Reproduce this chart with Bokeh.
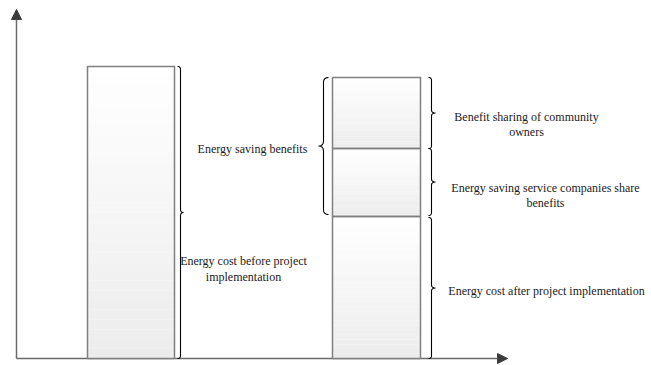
import numpy as np
from bokeh.plotting import figure
from bokeh.models import Range1d, Arrow, NormalHead, ColumnDataSource
from bokeh.core.properties import value
from bokeh.embed import file_html
from bokeh.resources import INLINE

# Energy cost before the project (single bar)
before_cost = 292
# Energy cost after the project, stacked with the two shares of the savings
after_cost = 142
esco_share = 68
owner_share = 71

label_before = ["Energy cost before project", "implementation"]
label_saving = ["Energy saving benefits"]
label_owner = ["Benefit sharing of community", "owners"]
label_esco = ["Energy saving service companies share", "benefits"]
label_after = ["Energy cost after project implementation"]

W, H = 651, 365
p = figure(width=W, height=H, output_backend="svg", toolbar_location=None,
           x_range=Range1d(0, W), y_range=Range1d(-7, H - 7),
           x_axis_location=None, y_axis_location=None, min_border=0,
           outline_line_color=None, background_fill_color="white")
p.grid.visible = False

FONT = value("Liberation Serif")

# bar geometry (horizontal placement)
left_x0, left_x1 = 87, 174
right_x0, right_x1 = 332, 420

segments = [
    (left_x0, left_x1, 0, before_cost),
    (right_x0, right_x1, 0, after_cost),
    (right_x0, right_x1, after_cost, after_cost + esco_share),
    (right_x0, right_x1, after_cost + esco_share, after_cost + esco_share + owner_share),
]

# axes with arrow heads
p.add_layout(Arrow(end=NormalHead(size=10, fill_color="#3c3c3c", line_color="#3c3c3c"),
                   x_start=16, y_start=0, x_end=16, y_end=349,
                   line_color="#6a6a6a", line_width=1.5, level="underlay"))
p.add_layout(Arrow(end=NormalHead(size=10, fill_color="#3c3c3c", line_color="#3c3c3c"),
                   x_start=16, y_start=0, x_end=507, y_end=0,
                   line_color="#6a6a6a", line_width=1.5, level="underlay"))

# soft vertical gradient inside each bar segment
n = 30
gl, gr, gb, gt, gc = [], [], [], [], []
for x0, x1, b, t in segments:
    edges = np.linspace(t, b, n + 1)
    for i in range(n):
        f = (i + 0.5) / n
        g = int(round(255 - f * (255 - 236)))
        gl.append(x0); gr.append(x1)
        gt.append(edges[i]); gb.append(edges[i + 1])
        gc.append("#%02x%02x%02x" % (g, g, g))
p.quad(left=gl, right=gr, top=gt, bottom=gb, fill_color=gc, line_color=None)

# bar outlines
p.quad(left=[s[0] for s in segments], right=[s[1] for s in segments],
       bottom=[s[2] for s in segments], top=[s[3] for s in segments],
       fill_alpha=0, line_color="#7f7f7f", line_width=1.5)


def qbez(p0, c, p1, k=8):
    t = np.linspace(0, 1, k)[:, None]
    pts = (1 - t) ** 2 * np.array(p0) + 2 * (1 - t) * t * np.array(c) + t ** 2 * np.array(p1)
    return pts


def brace(x, y_top, y_bot, direction=1, r=3, tip=3):
    """Curly brace along x; direction=1 gives '}' and -1 gives '{'."""
    d = direction
    ym = (y_top + y_bot) / 2
    parts = [
        qbez((x - d * r, y_top), (x, y_top), (x, y_top - r)),
        np.array([[x, ym + r]]),
        qbez((x, ym + r), (x, ym), (x + d * tip, ym), 5),
        qbez((x + d * tip, ym), (x, ym), (x, ym - r), 5),
        np.array([[x, y_bot + r]]),
        qbez((x, y_bot + r), (x, y_bot), (x - d * r, y_bot)),
    ]
    pts = np.vstack(parts)
    p.line(pts[:, 0], pts[:, 1], line_color="black", line_width=1.1)


brace(180, before_cost, 0, 1, r=3, tip=3)
brace(431, after_cost - 1, 0, 1, r=3, tip=4)
brace(431, after_cost + esco_share, after_cost + 1, 1, r=3, tip=4)
brace(431, after_cost + esco_share + owner_share, after_cost + esco_share, 1, r=3, tip=4)
brace(323, after_cost + esco_share + owner_share, after_cost + 2, -1, r=5, tip=5)

# annotation text
tx, ty, tt = [], [], []
def add_lines(lines, cx, cy, step=15):
    for i, s in enumerate(lines):
        tx.append(cx); ty.append(cy - i * step); tt.append(s)

add_lines(label_saving, 252, 210)
add_lines(label_before, 243, 98, 16)
add_lines(label_owner, 526, 242)
add_lines(label_esco, 545, 171)
add_lines(label_after, 546, 68)

src = ColumnDataSource(dict(x=tx, y=ty, text=tt))
p.text(x="x", y="y", text="text", source=src, text_font=FONT, text_font_size="12px",
       text_align="center", text_baseline="middle", text_color="#1a1a1a")

open("out.html", "w").write(file_html(p, INLINE))
